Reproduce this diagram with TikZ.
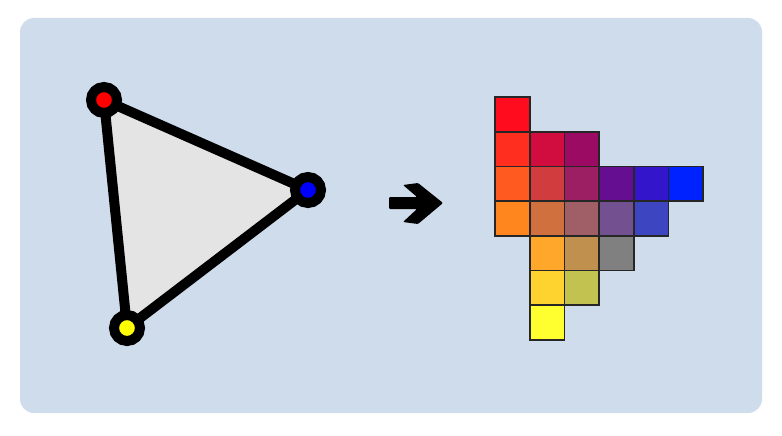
\documentclass[tikz,border=0pt]{standalone}
\definecolor{bgblue}{HTML}{CFDCEC}
\definecolor{trigray}{HTML}{E4E4E4}
\definecolor{vred}{HTML}{FF0000}
\definecolor{vblue}{HTML}{0000FF}
\definecolor{vyellow}{HTML}{FFFF00}
\definecolor{k00}{HTML}{FF0D1F}
\definecolor{k10}{HTML}{FF2E1F}
\definecolor{k11}{HTML}{D10C3F}
\definecolor{k12}{HTML}{9B0B64}
\definecolor{k20}{HTML}{FF5A1F}
\definecolor{k21}{HTML}{D13D3F}
\definecolor{k22}{HTML}{9C1F63}
\definecolor{k23}{HTML}{660E92}
\definecolor{k24}{HTML}{3315CB}
\definecolor{k25}{HTML}{0022FF}
\definecolor{k30}{HTML}{FF861F}
\definecolor{k31}{HTML}{D0703F}
\definecolor{k32}{HTML}{A05F66}
\definecolor{k33}{HTML}{735191}
\definecolor{k34}{HTML}{3E45C0}
\definecolor{k41}{HTML}{FFA72A}
\definecolor{k42}{HTML}{C0904E}
\definecolor{k43}{HTML}{808080}
\definecolor{k51}{HTML}{FFD32F}
\definecolor{k52}{HTML}{C2C250}
\definecolor{k61}{HTML}{FFFF30}
\tikzset{
  vert/.style={circle, draw=black, line width=10pt, minimum size=26pt, inner sep=0pt},
  edge/.style={draw=black, line width=10pt, line join=round},
  cell/.style={rectangle, draw=black!85, line width=1.6pt, minimum size=34.7pt, inner sep=0pt},
  bigarrow/.style={fill=black, rounded corners=1pt}
}
\begin{document}
\begin{tikzpicture}[x=1pt,y=-1pt]
\useasboundingbox (0,0) rectangle (782,436);
\fill[white] (0,0) rectangle (782,436);
\fill[bgblue, rounded corners=14pt] (20,18) rectangle (762,413);
% triangle
\coordinate (R) at (104,100);
\coordinate (B) at (308,190);
\coordinate (Y) at (127,328);
\fill[trigray] (R) -- (B) -- (Y) -- cycle;
\draw[edge] (R) -- (B) -- (Y) -- cycle;
\node[vert, fill=vred] (vR) at (R) {};
\node[vert, fill=vblue] (vB) at (B) {};
\node[vert, fill=vyellow] (vY) at (Y) {};
% arrow
\fill[bigarrow] (389,197) -- (417,197) -- (403,185) -- (418,183) -- (443,203) -- (418,224) -- (403,222) -- (417,209) -- (389,209) -- cycle;
% grid
\foreach \r/\c in {0/0,1/0,1/1,1/2,2/0,2/1,2/2,2/3,2/4,2/5,3/0,3/1,3/2,3/3,3/4,4/1,4/2,4/3,5/1,5/2,6/1}{
  \node[cell, fill=k\r\c] (cell-\r-\c) at ({495+34.7*(\c+0.5)},{97+34.7*(\r+0.5)}) {};
}
\end{tikzpicture}
\end{document}
